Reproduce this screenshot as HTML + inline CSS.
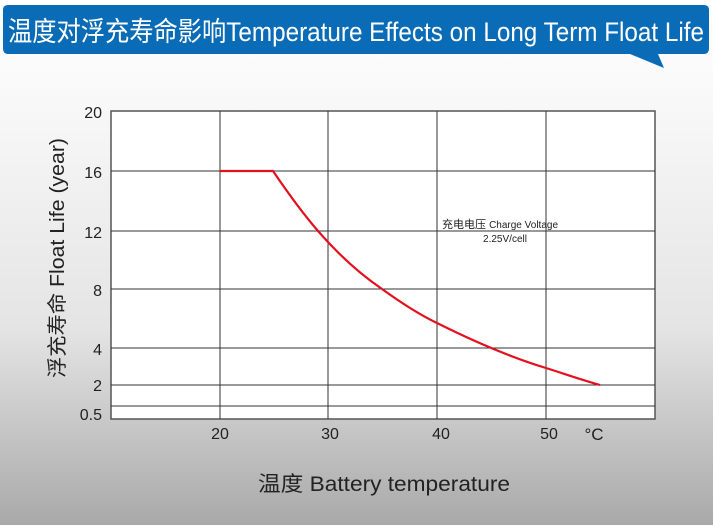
<!DOCTYPE html>
<html><head><meta charset="utf-8"><style>
html,body{margin:0;padding:0;}
body{width:713px;height:530px;position:relative;overflow:hidden;background:#fff;font-family:"Liberation Sans","Noto Sans CJK SC",sans-serif;}
.bg{position:absolute;left:0;top:0;width:713px;height:525px;background:linear-gradient(#ffffff 0px,#fafafa 80px,#e4e4e4 330px,#a9a9a9 525px);}
</style></head><body>
<div class="bg"></div>
<svg width="713" height="530" style="position:absolute;left:0;top:0" font-family="Liberation Sans, Noto Sans CJK SC, sans-serif">
<path d="M8,5 H704 Q709,5 709,10 V48 Q709,54 704,54 H658 L664,68 L630,54 H8 Q3,54 3,48 V10 Q3,5 8,5 Z" fill="#0a6cb6"/>
<text x="8" y="41" font-size="27" fill="#fff" textLength="696" lengthAdjust="spacingAndGlyphs">温度对浮充寿命影响Temperature Effects on Long Term Float Life</text>
<rect x="111" y="111" width="544" height="308" fill="#fff" stroke="#555" stroke-width="1.5"/>
<g stroke="#333" stroke-width="1">
<line x1="220" y1="111" x2="220" y2="419"/><line x1="328" y1="111" x2="328" y2="419"/>
<line x1="437" y1="111" x2="437" y2="419"/><line x1="546" y1="111" x2="546" y2="419"/>
<line x1="111" y1="171" x2="655" y2="171"/><line x1="111" y1="231" x2="655" y2="231"/>
<line x1="111" y1="289" x2="655" y2="289"/><line x1="111" y1="348" x2="655" y2="348"/>
<line x1="111" y1="385" x2="655" y2="385"/><line x1="111" y1="406" x2="655" y2="406"/>
</g>
<path d="M220,171 L273,171 C290,196 305,216 318,231 C338,254 360,274 382,289 C400,302 418,314 437,323 C475,342 510,357 546,368 C565,374 582,380 600,385" fill="none" stroke="#e3101e" stroke-width="2.2"/>
<g font-size="16" fill="#222" text-anchor="end">
<text x="102" y="118">20</text><text x="102" y="178">16</text><text x="102" y="238">12</text>
<text x="102" y="296">8</text><text x="102" y="355">4</text><text x="102" y="391">2</text><text x="102" y="420">0.5</text>
</g>
<g font-size="16" fill="#222" text-anchor="middle">
<text x="220" y="439">20</text><text x="330" y="439">30</text><text x="441" y="439">40</text><text x="549" y="439">50</text>
<text x="594" y="440" font-size="17">°C</text>
</g>
<text x="0" y="0" font-size="20" fill="#222" text-anchor="middle" textLength="240" lengthAdjust="spacingAndGlyphs" transform="translate(64,258) rotate(-90)">浮充寿命  Float Life (year)</text>
<text x="384" y="491" font-size="21" fill="#222" text-anchor="middle" textLength="252" lengthAdjust="spacingAndGlyphs">温度  Battery temperature</text>
<text x="442" y="228" font-size="11" fill="#222">充电电压 <tspan font-size="10">Charge Voltage</tspan></text>
<text x="505" y="242" font-size="10" fill="#222" text-anchor="middle">2.25V/cell</text>
</svg>
</body></html>
